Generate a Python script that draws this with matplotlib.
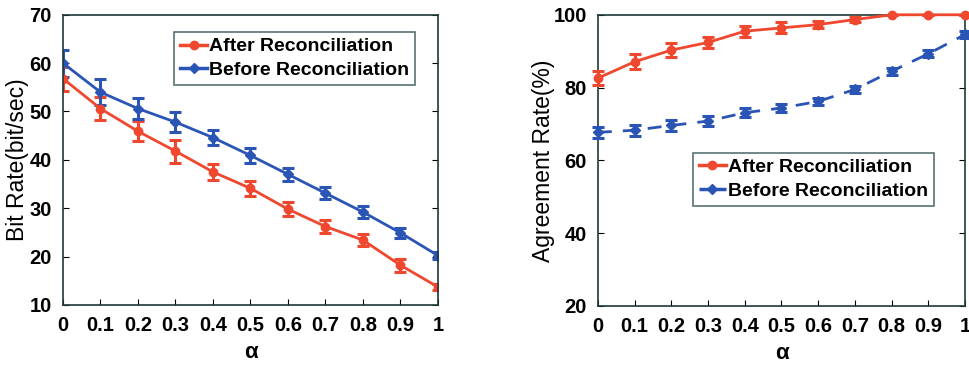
import matplotlib
matplotlib.use("Agg")
from matplotlib import pyplot as plt
from matplotlib.lines import Line2D

plt.rcParams['font.family'] = ['Liberation Sans', 'DejaVu Sans']

# 数据
alpha = [0, 0.1, 0.2, 0.3, 0.4, 0.5, 0.6, 0.7, 0.8, 0.9, 1.0]
alpha_ticks = ['0', '0.1', '0.2', '0.3', '0.4', '0.5', '0.6', '0.7', '0.8', '0.9', '1']

# 左图：比特率
rate_after = [56.8, 50.6, 45.9, 41.8, 37.5, 34.1, 29.8, 26.2, 23.4, 18.2, 13.7]
rate_after_err = [2.5, 2.4, 2.1, 2.4, 1.7, 1.6, 1.5, 1.4, 1.2, 1.3, 0.7]
rate_before = [60.0, 54.0, 50.6, 47.8, 44.6, 40.9, 37.0, 33.1, 29.2, 24.9, 20.2]
rate_before_err = [2.8, 2.7, 2.2, 2.1, 1.6, 1.6, 1.4, 1.3, 1.2, 1.1, 0.8]

# 右图：一致率
agree_after = [82.6, 87.1, 90.3, 92.4, 95.5, 96.4, 97.3, 98.7, 100, 100, 100]
agree_after_err = [2.0, 2.0, 2.0, 1.5, 1.5, 1.5, 1.0, 0.8, 0, 0, 0]
agree_before = [67.7, 68.3, 69.6, 70.8, 73.1, 74.4, 76.2, 79.5, 84.5, 89.3, 94.6]
agree_before_err = [1.5, 1.5, 1.5, 1.3, 1.3, 1.2, 1.0, 1.0, 1.0, 1.0, 1.0]

labels = ['After Reconciliation', 'Before Reconciliation']
red = '#f0472f'
blue = '#2a55b5'

fig = plt.figure(figsize=(9.69, 3.70), dpi=100)
ax1 = fig.add_axes([0.065, 0.176, 0.387, 0.784])
ax2 = fig.add_axes([0.617, 0.173, 0.379, 0.787])


def style_axis(ax):
    ax.tick_params(direction='in', top=False, right=True, length=4, labelsize=14.5, pad=8)
    for lbl in ax.get_xticklabels() + ax.get_yticklabels():
        lbl.set_fontweight('bold')
    for s in ax.spines.values():
        s.set_linewidth(1.2)
        s.set_color('#1f3a3a')
    ax.set_xlabel('α', fontsize=16, fontweight='bold', labelpad=5)


def add_legend(ax, dashed, loc, anchor):
    h = [Line2D([], [], color=red, marker='o', markersize=6, linewidth=2.5),
         Line2D([], [], color=blue, marker='D', markersize=5, linewidth=2.5,
                linestyle='--' if dashed else '-', dashes=(3, 2) if dashed else (None, None))]
    leg = ax.legend(h, labels, loc=loc, bbox_to_anchor=anchor, fontsize=14, frameon=True,
                    fancybox=False, edgecolor='#2f4f4f', handlelength=1.4, handletextpad=0.1,
                    borderpad=0.3, labelspacing=0.3, borderaxespad=0)
    leg.get_frame().set_linewidth(1.2)
    for t in leg.get_texts():
        t.set_fontweight('bold')


# 左图
ax1.errorbar(alpha, rate_after, yerr=rate_after_err, color=red, marker='o', markersize=6,
             linewidth=2, capsize=4.5, elinewidth=2.2, capthick=2.2)
ax1.errorbar(alpha, rate_before, yerr=rate_before_err, color=blue, marker='D', markersize=5,
             linewidth=2, capsize=4.5, elinewidth=2.2, capthick=2.2)
ax1.set_xlim(0, 1)
ax1.set_ylim(10, 70)
ax1.set_xticks(alpha)
ax1.set_xticklabels(alpha_ticks)
ax1.set_yticks([10, 20, 30, 40, 50, 60, 70])
ax1.set_ylabel('Bit Rate(bit/sec)', fontsize=16.5, labelpad=0)
style_axis(ax1)
add_legend(ax1, False, 'upper right', (0.939, 0.941))

# 右图
ax2.errorbar(alpha, agree_after, yerr=agree_after_err, color=red, marker='o', markersize=6,
             linewidth=2, capsize=4.5, elinewidth=2.2, capthick=2.2, clip_on=False, zorder=3)
ax2.errorbar(alpha, agree_before, yerr=agree_before_err, color=blue, marker='D', markersize=5,
             linewidth=2, linestyle='--', dashes=(5, 4), capsize=4.5, elinewidth=2.2, capthick=2.2,
             clip_on=False, zorder=3)
ax2.set_xlim(0, 1)
ax2.set_ylim(20, 100)
ax2.set_xticks(alpha)
ax2.set_xticklabels(alpha_ticks)
ax2.set_yticks([20, 40, 60, 80, 100])
ax2.set_ylabel('Agreement Rate(%)', fontsize=16.5, labelpad=-1)
style_axis(ax2)
add_legend(ax2, True, 'upper left', (0.259, 0.526))

fig.savefig('out.png', dpi=100)
